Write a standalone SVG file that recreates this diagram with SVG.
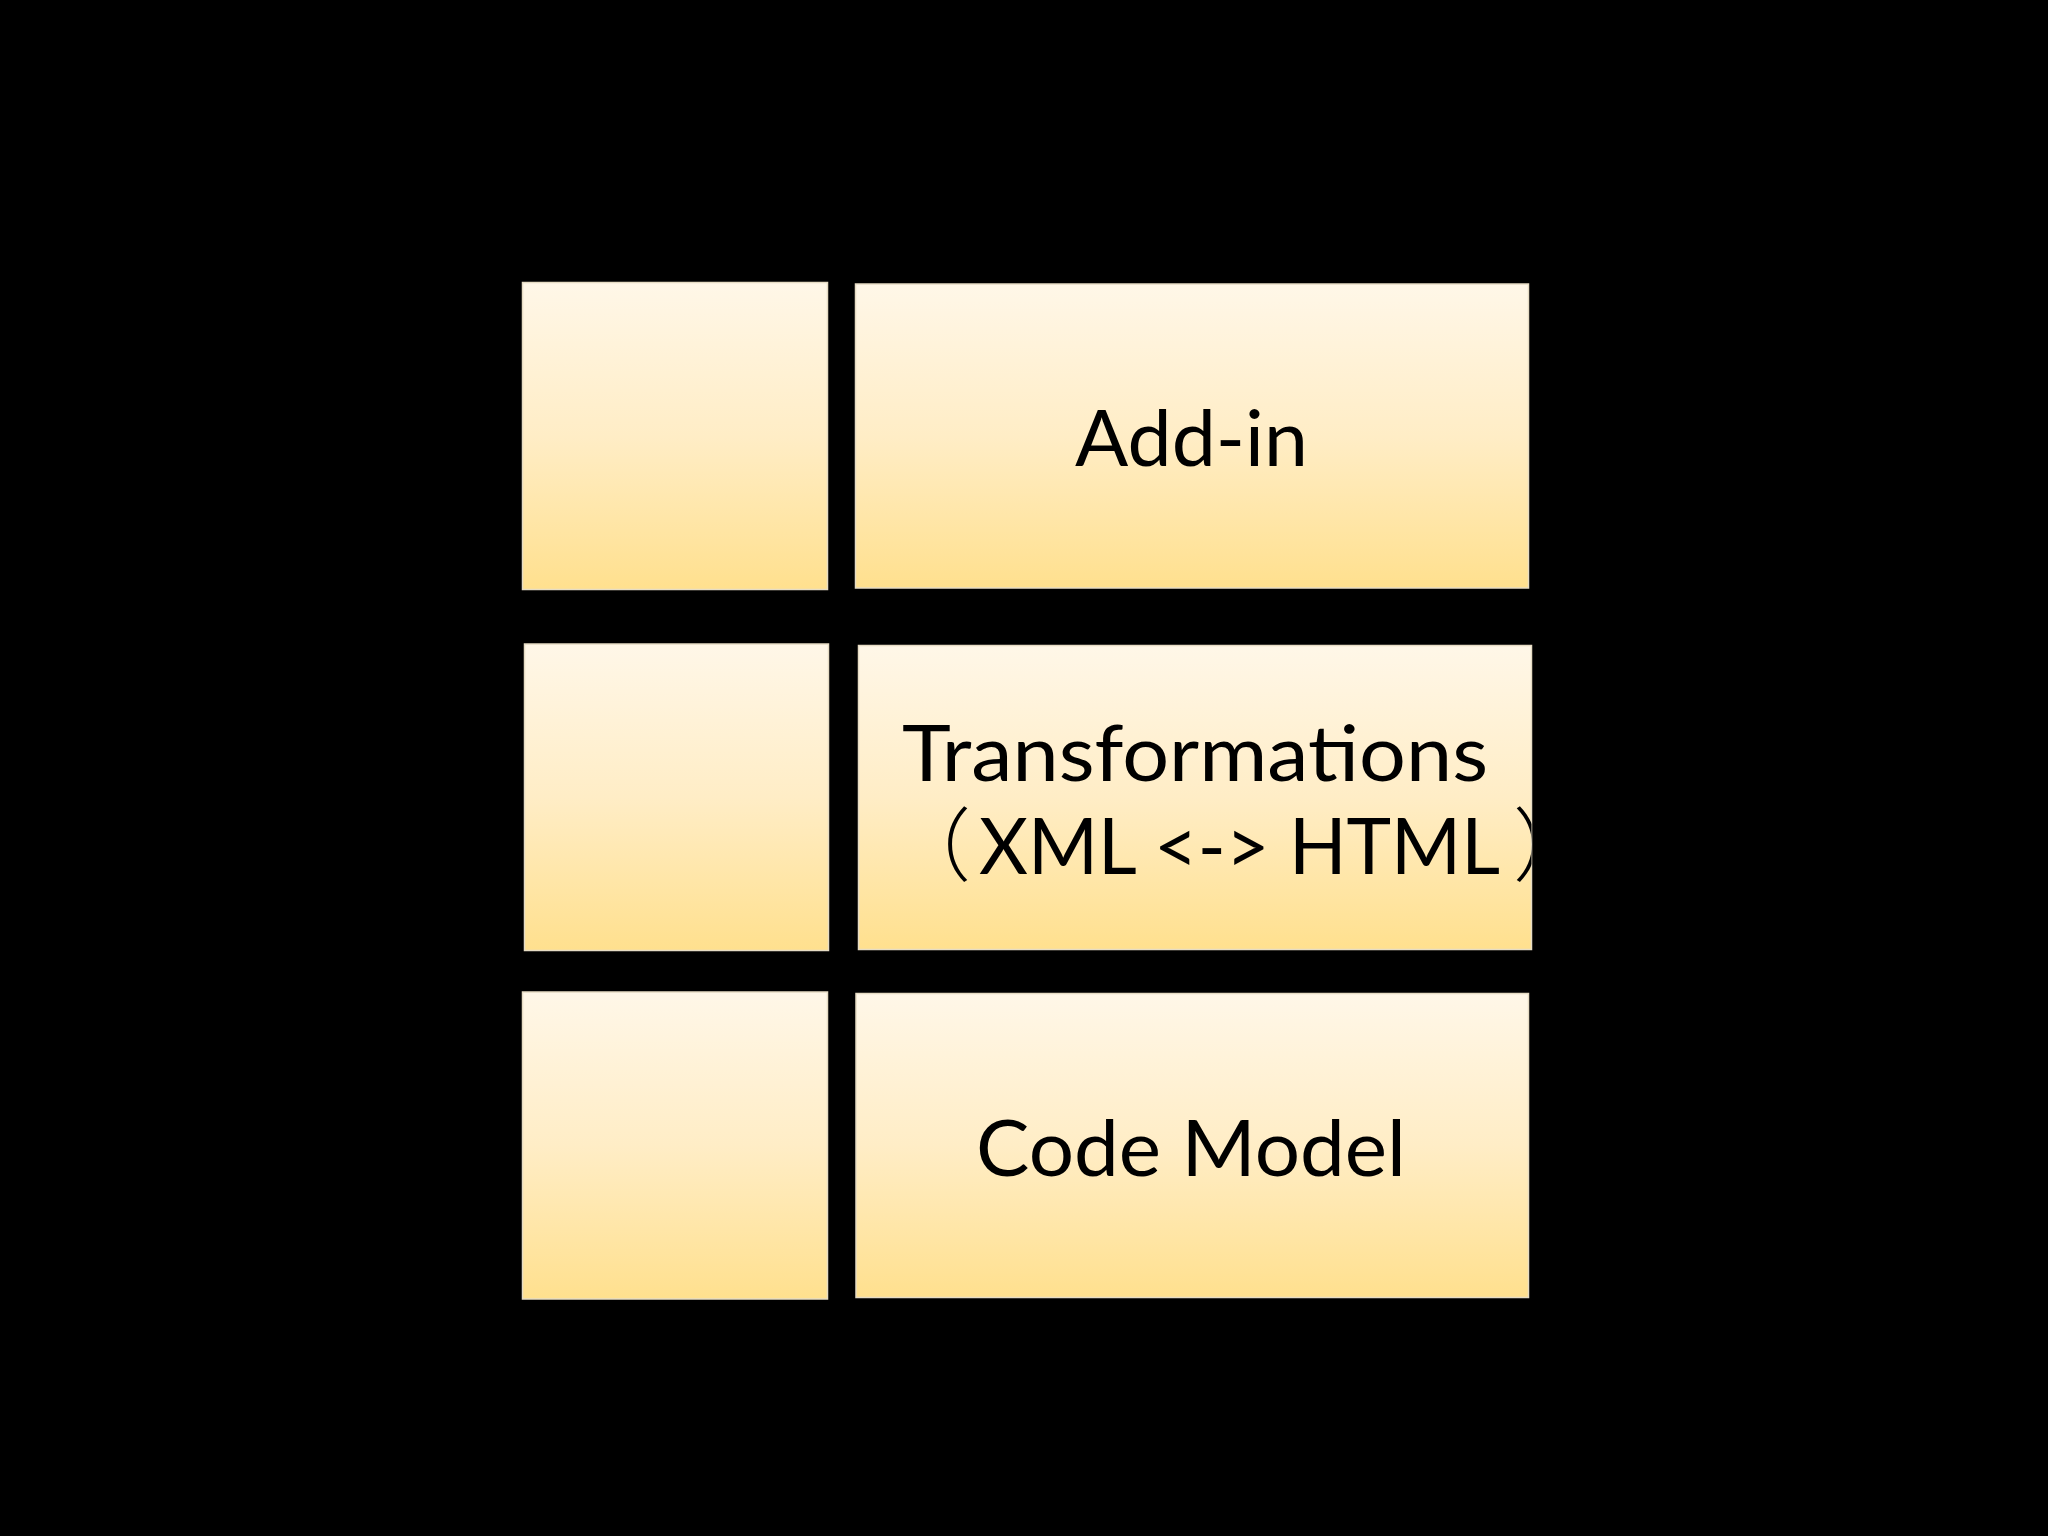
<svg xmlns="http://www.w3.org/2000/svg" width="2048" height="1536" viewBox="0 0 2048 1536">
  <defs>
    <linearGradient id="fill" x1="0" y1="0" x2="0" y2="1">
      <stop offset="0" stop-color="#FFF7E8"/>
      <stop offset="0.5" stop-color="#FFEDC6"/>
      <stop offset="1" stop-color="#FFE08E"/>
    </linearGradient>
    <clipPath id="clip2">
      <rect x="858.5" y="645.5" width="673" height="304"/>
    </clipPath>
  </defs>
  <style>
    .box { fill: url(#fill); stroke: #E6DCC4; stroke-width: 1.5; }
    .lbl { font-family: Lato, "Liberation Sans", sans-serif; font-size: 77px; fill: #000; }
    .cjk { font-family: "Noto Sans CJK SC", sans-serif; font-size: 80px; font-weight: 300; }
  </style>
  <rect x="0" y="0" width="2048" height="1536" fill="#000"/>

  <g id="row1-left"><rect class="box" x="522.5" y="282.5" width="305" height="307"/></g>
  <g id="row1-right">
    <rect class="box" x="855.5" y="284" width="673" height="304"/>
    <text class="lbl" x="1075" y="466" textLength="233" lengthAdjust="spacingAndGlyphs">Add-in</text>
  </g>

  <g id="row2-left"><rect class="box" x="524.5" y="644" width="304" height="306.5"/></g>
  <g id="row2-right">
    <rect class="box" x="858.5" y="645.5" width="673" height="304"/>
    <g clip-path="url(#clip2)">
      <text class="lbl"><tspan x="902" y="781" textLength="586" lengthAdjust="spacingAndGlyphs">Transformations</tspan><tspan class="cjk" x="891" y="874">（</tspan><tspan x="979" y="874" textLength="521" lengthAdjust="spacingAndGlyphs">XML &lt;-&gt; HTML</tspan><tspan class="cjk" x="1513" y="874">）</tspan></text>
    </g>
  </g>

  <g id="row3-left"><rect class="box" x="522.5" y="992" width="305" height="307"/></g>
  <g id="row3-right">
    <rect class="box" x="856" y="993.5" width="672.5" height="304"/>
    <text class="lbl" x="976" y="1176" textLength="430" lengthAdjust="spacingAndGlyphs">Code Model</text>
  </g>

  <g id="connectors"/>
</svg>
